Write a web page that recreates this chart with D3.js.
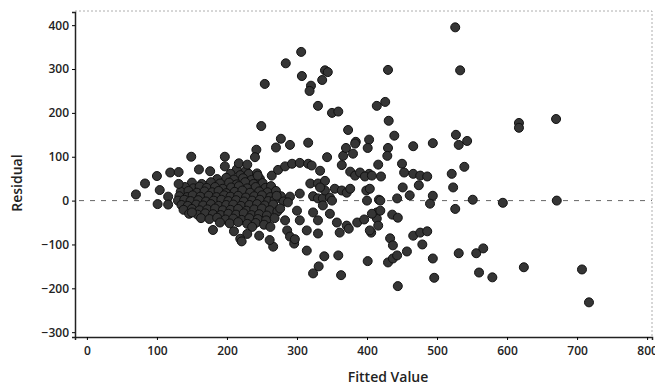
<!DOCTYPE html>
<html>
<head>
<meta charset="utf-8">
<script src="https://cdn.jsdelivr.net/npm/d3@7"></script>
<style>
  body { margin: 0; background: #fff; }
  .tick text { font-family: "Open Sans", sans-serif; font-weight: 600; font-size: 12px; fill: #222; }
</style>
</head>
<body>
<div id="chart"></div>
<script>
// tick labels
const xTicks = [0, 100, 200, 300, 400, 500, 600, 700, 800];
const yTicks = [-300, -200, -100, 0, 100, 200, 300, 400];

// [fitted value, residual] - scattered points
const scatterPoints = [
  [70, 14], [83, 39], [100, 56], [104, 24], [101, -8], [116, 9], [116, -9],
  [119, 64], [131, 65], [131, 38], [149, 100], [160, 71], [176, 67],
  [197, 100], [197, 78], [217, 85], [229, 82], [242, 116], [240, 99], [244, 57],
  [249, 170], [254, 266], [180, -67], [210, -70], [229, -76], [219, -87],
  [246, -80], [221, -93], [150, -27],
  [284, 313], [306, 339], [307, 284], [320, 262], [318, 250], [336, 275],
  [340, 297], [344, 293], [330, 216], [350, 200], [359, 203],
  [270, 121], [277, 141], [290, 127], [316, 132], [343, 99], [366, 102],
  [370, 120], [380, 107], [364, 81], [373, 161], [384, 134], [403, 139],
  [430, 298], [414, 216], [426, 225], [431, 182], [439, 148], [430, 120],
  [429, 102], [416, 82], [401, 120], [383, 130], [466, 124], [494, 131],
  [526, 395], [533, 297], [527, 150], [531, 127], [543, 136], [617, 177],
  [617, 166], [670, 186], [539, 77], [450, 84], [453, 64], [420, 55],
  [466, 61], [476, 57], [486, 55], [521, 61], [523, 30], [474, 35],
  [451, 30], [461, 12], [494, 11], [490, -7], [443, 5], [417, 2], [400, 0],
  [551, 2], [594, -5], [671, 0], [526, -19], [414, -27], [414, -41],
  [416, -57], [436, -32], [444, -39], [433, -86], [437, -102], [466, -80],
  [476, -73], [486, -70], [479, -100], [457, -116], [430, -141], [437, -132],
  [443, -125], [494, -132], [531, -120], [556, -120], [566, -109],
  [560, -164], [579, -175], [624, -152], [707, -157], [717, -232],
  [496, -176], [444, -195], [401, -138], [363, -170], [359, -125],
  [406, -73], [403, 61], [376, 66], [383, 57], [390, 64], [397, 55],
  [407, 57], [354, 27], [364, 23], [371, 18], [376, 27], [399, 23],
  [404, 27], [419, 0], [323, 10], [330, 5], [337, 5], [340, 23], [347, 7],
  [350, 0], [304, 16], [287, -4], [271, 11], [276, -18],
  [264, 57], [273, 70], [283, 78], [293, 84], [304, 86], [316, 84], [321, 80],
  [333, 68], [319, 39], [330, 39], [340, 45], [333, 30],
  [266, -105], [296, -98], [314, -114], [339, -127], [331, -150],
  [323, -166], [283, -45], [286, -68], [290, -82], [297, -88],
  [300, -23], [304, -45], [314, -68], [323, -27], [330, -45], [337, -11],
  [347, -30], [357, -50], [361, -73], [371, -57], [330, -75],
  [374, -64], [386, -50], [396, -43], [407, -30], [404, -68], [419, -23],
  [261, -90], [262, -60], [268, -40]
];

// dense block of overlapping points around fitted 130-300
const clusterPoints = [
  [214, 71], [227, 68], [205, 61], [219, 58], [231, 61], [243, 62],
  [186, 49], [199, 52], [210, 48], [223, 51], [235, 47], [247, 50],
  [150, 41], [164, 38], [177, 42], [190, 39], [203, 41], [214, 37], [226, 42], [238, 38], [251, 40],
  [140, 31], [152, 28], [161, 32], [171, 29], [183, 31], [194, 27], [206, 30], [217, 33], [229, 28], [241, 31], [255, 29], [263, 33],
  [134, 20], [145, 22], [157, 18], [168, 21], [179, 19], [188, 22], [199, 17], [211, 20], [222, 23], [233, 18], [246, 21], [258, 19], [270, 22],
  [132, 10], [143, 8], [151, 12], [162, 9], [174, 11], [185, 8], [196, 12], [205, 9], [216, 11], [227, 7], [239, 10], [250, 12], [262, 8], [277, 10], [290, 9],
  [130, 0], [139, 2], [148, -1], [159, 1], [170, -2], [181, 0], [192, 2], [202, -1], [213, 1], [224, -2], [236, 0], [247, 2], [259, -1], [268, 1], [281, -2],
  [135, -10], [144, -12], [156, -9], [166, -11], [177, -8], [188, -12], [199, -10], [209, -9], [220, -12], [232, -10], [243, -8], [254, -11], [266, -9],
  [138, -21], [150, -19], [161, -22], [172, -20], [183, -18], [194, -22], [205, -21], [216, -19], [228, -23], [239, -20], [250, -18], [261, -22], [272, -25],
  [146, -30], [158, -32], [169, -29], [180, -31], [191, -33], [202, -30], [213, -32], [224, -29], [235, -33], [246, -31], [257, -34],
  [163, -40], [175, -42], [186, -39], [198, -43], [209, -41], [221, -44], [232, -40], [244, -42], [256, -45],
  [190, -50], [204, -52], [216, -49], [229, -53], [241, -51], [253, -55], [236, -60]
];

const allPoints = clusterPoints.concat(scatterPoints);

const margin = { top: 12, right: 3, bottom: 48, left: 75 };
const width = 655 - margin.left - margin.right;
const height = 385 - margin.top - margin.bottom;

const x = d3.scaleLinear().domain([-17, 807]).range([0, width]);
const y = d3.scaleLinear().domain([-311, 430]).range([height, 0]);

const svg = d3.select('#chart')
  .append('svg')
  .attr('width', 655)
  .attr('height', 385)
  .append('g')
  .attr('transform', `translate(${margin.left},${margin.top})`);

// faint frame on top and right
svg.append('path')
  .attr('d', `M0,-1H${width}V${height}`)
  .attr('fill', 'none')
  .attr('stroke', '#999')
  .attr('stroke-width', 0.8)
  .attr('stroke-dasharray', '2,2');

// zero reference line
svg.append('line')
  .attr('x1', 4).attr('x2', width)
  .attr('y1', y(0)).attr('y2', y(0))
  .attr('stroke', '#666')
  .attr('stroke-width', 1)
  .attr('stroke-dasharray', '5,6');

// points
svg.append('g')
  .selectAll('circle')
  .data(allPoints)
  .join('circle')
  .attr('cx', d => x(d[0]))
  .attr('cy', d => y(d[1]))
  .attr('r', 4.5)
  .attr('fill', '#353535')
  .attr('stroke', '#111')
  .attr('stroke-width', 1);

// axes
const xAxis = svg.append('g')
  .attr('transform', `translate(0,${height})`)
  .call(d3.axisBottom(x).tickValues(xTicks).tickSize(3).tickPadding(6));
xAxis.select('.domain').attr('stroke', '#222').attr('stroke-width', 1.5);

const yAxis = svg.append('g')
  .call(d3.axisLeft(y).tickValues(yTicks).tickSize(3).tickPadding(3));
yAxis.select('.domain').attr('stroke', '#222').attr('stroke-width', 1.5);

// axis titles
svg.append('text')
  .attr('x', x(430))
  .attr('y', height + 45)
  .attr('text-anchor', 'middle')
  .attr('font-family', 'Open Sans, sans-serif')
  .attr('font-weight', 600)
  .attr('font-size', 14)
  .attr('fill', '#222')
  .text('Fitted Value');

svg.append('text')
  .attr('transform', `translate(${-53},${y(40)}) rotate(-90)`)
  .attr('text-anchor', 'middle')
  .attr('font-family', 'Open Sans, sans-serif')
  .attr('font-weight', 600)
  .attr('font-size', 14)
  .attr('fill', '#222')
  .text('Residual');
</script>
</body>
</html>
